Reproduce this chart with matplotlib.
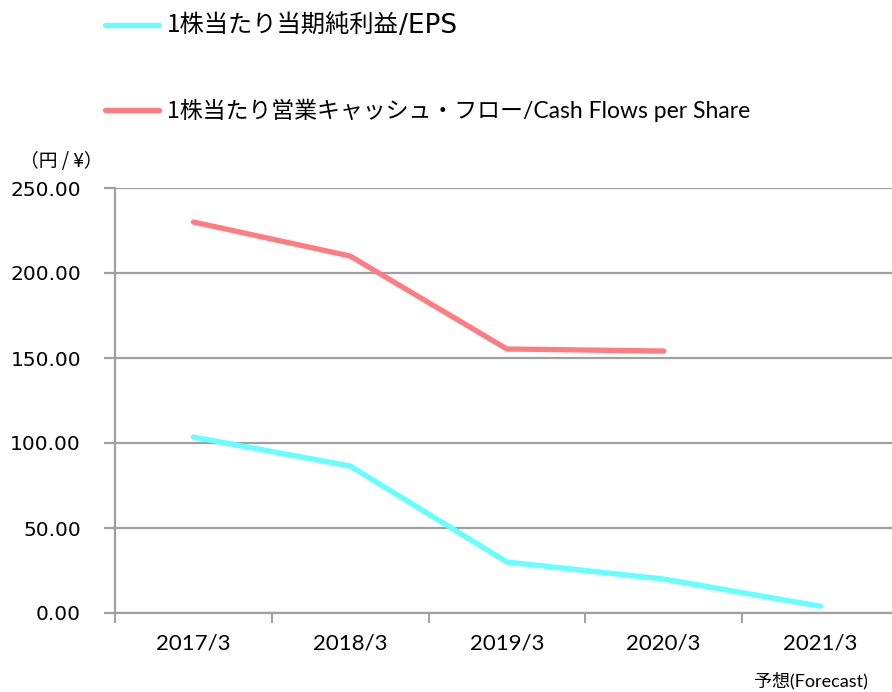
import matplotlib
matplotlib.use("Agg")
import matplotlib.pyplot as plt
from matplotlib.lines import Line2D

# data
years = ["2017/3", "2018/3", "2019/3", "2020/3", "2021/3"]
eps = [103.5, 86.5, 30.0, 20.0, 4.0]
cfps = [230.0, 210.0, 155.3, 154.1]
y_ticks = [0, 50, 100, 150, 200, 250]

eps_label_jp, eps_label_en = "1株当たり当期純利益", "/EPS"
cfps_label_jp, cfps_label_en = "1株当たり営業キャッシュ・フロー", "/Cash Flows per Share"

CYAN = "#66FFFF"
PINK = "#FF7C80"
GRID = "#A0A0A0"
JP = ["Noto Sans CJK JP", "DejaVu Sans"]
NARROW = ["Lato", "Noto Sans CJK JP"]

W, H = 892, 692
fig = plt.figure(figsize=(W / 100, H / 100), dpi=100)
# the plot area runs a bit past the right edge of the image, like the original
ax = fig.add_axes([115 / W, 79 / H, 5 * 156.75 / W, 425 / H])

xs = list(range(len(years)))
ax.plot(xs, eps, color=CYAN, linewidth=3.8, solid_capstyle="round", zorder=3)
ax.plot(xs[:len(cfps)], cfps, color=PINK, linewidth=3.8, solid_capstyle="round", zorder=3)

ax.set_xlim(-0.5, len(years) - 0.5)
ax.set_ylim(0, 250)
ax.set_yticks(y_ticks)
ax.set_yticklabels([f"{v:.2f}" for v in y_ticks])
ax.yaxis.grid(True, color=GRID, linewidth=1.6)
ax.set_axisbelow(True)

ax.set_xticks(xs)
ax.set_xticklabels(years)
ax.set_xticks([x - 0.5 for x in xs] + [len(years) - 0.5], minor=True)
ax.tick_params(axis="x", which="major", length=0, pad=15)
ax.tick_params(axis="x", which="minor", length=7, width=1.4, color=GRID)
ax.tick_params(axis="y", length=8, width=1.6, color=GRID, pad=16.5, labelsize=14.5)
for lab in ax.get_xticklabels():
    lab.set_family(NARROW)
    lab.set_fontsize(16)
for lab in ax.get_yticklabels():
    lab.set_family("DejaVu Sans")

for side in ("top", "right"):
    ax.spines[side].set_visible(False)
for side in ("left", "bottom"):
    ax.spines[side].set_color(GRID)
    ax.spines[side].set_linewidth(1.6)

fig.text(61 / W, 1 - 162 / H, "（円 / ¥）", family=JP, fontsize=13.5, va="center", ha="center")
fig.text(868 / W, 1 - 681 / H, "予想(Forecast)", family=NARROW,
         fontsize=13, va="center", ha="right")

handles = [Line2D([], [], color=CYAN, linewidth=3.8, solid_capstyle="round"),
           Line2D([], [], color=PINK, linewidth=3.8, solid_capstyle="round")]
leg = fig.legend(handles, [eps_label_jp, cfps_label_jp], loc="upper left",
                 bbox_to_anchor=(105 / W, 1 - 13 / H), frameon=False,
                 prop={"family": JP, "size": 16.5}, handlelength=2.36,
                 handletextpad=0.35, labelspacing=2.65, borderaxespad=0, borderpad=0)
leg.get_texts()[0].set_fontsize(17.5)

# latin halves of the legend labels are set in other faces, placed right after
fig.canvas.draw()
tails = [(eps_label_en, ["DejaVu Sans"], 19), (cfps_label_en, NARROW, 16.5)]
for txt, (tail, fam, size) in zip(leg.get_texts(), tails):
    bb = txt.get_window_extent()
    fig.text(bb.x1 / W, (bb.y0 + bb.y1) / 2 / H, tail, family=fam,
             fontsize=size, va="center", ha="left")

fig.savefig("out.png", dpi=100)
